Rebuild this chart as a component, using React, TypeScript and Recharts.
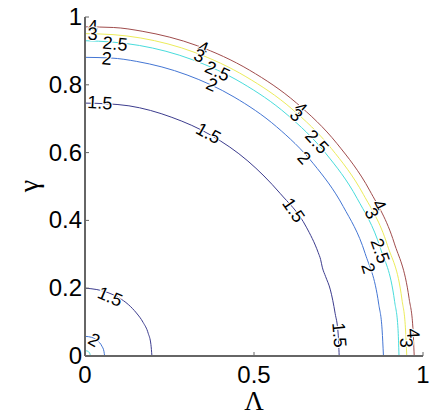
import React from 'react';
import { ComposedChart, Line, Scatter, XAxis, YAxis } from 'recharts';

const xTicks = [0, 0.5, 1];
const yTicks = [0, 0.2, 0.4, 0.6, 0.8, 1];

// contour lines (Lambda, gamma)
const level4 = [
  { x: 0, y: 0.971 }, { x: 0.085, y: 0.969 }, { x: 0.169, y: 0.958 }, { x: 0.333, y: 0.915 },
  { x: 0.487, y: 0.843 }, { x: 0.626, y: 0.746 }, { x: 0.746, y: 0.626 }, { x: 0.843, y: 0.487 },
  { x: 0.915, y: 0.333 }, { x: 0.959, y: 0.169 }, { x: 0.970, y: 0.085 }, { x: 0.974, y: 0 },
];
const level3 = [
  { x: 0, y: 0.951 }, { x: 0.083, y: 0.948 }, { x: 0.165, y: 0.938 }, { x: 0.326, y: 0.895 },
  { x: 0.476, y: 0.824 }, { x: 0.612, y: 0.729 }, { x: 0.729, y: 0.612 }, { x: 0.824, y: 0.476 },
  { x: 0.895, y: 0.326 }, { x: 0.938, y: 0.165 }, { x: 0.948, y: 0.083 }, { x: 0.952, y: 0 },
];
const level25 = [
  { x: 0, y: 0.930 }, { x: 0.081, y: 0.926 }, { x: 0.161, y: 0.916 }, { x: 0.318, y: 0.874 },
  { x: 0.465, y: 0.805 }, { x: 0.598, y: 0.712 }, { x: 0.712, y: 0.598 }, { x: 0.805, y: 0.465 },
  { x: 0.874, y: 0.318 }, { x: 0.916, y: 0.161 }, { x: 0.926, y: 0.081 }, { x: 0.929, y: 0 },
];
const level2 = [
  { x: 0, y: 0.881 }, { x: 0.077, y: 0.879 }, { x: 0.153, y: 0.869 }, { x: 0.302, y: 0.829 },
  { x: 0.441, y: 0.764 }, { x: 0.567, y: 0.676 }, { x: 0.676, y: 0.567 }, { x: 0.764, y: 0.441 },
  { x: 0.829, y: 0.302 }, { x: 0.869, y: 0.153 }, { x: 0.879, y: 0.077 }, { x: 0.883, y: 0 },
];
const level15 = [
  { x: 0, y: 0.746 }, { x: 0.065, y: 0.744 }, { x: 0.130, y: 0.738 }, { x: 0.257, y: 0.704 },
  { x: 0.375, y: 0.650 }, { x: 0.482, y: 0.575 }, { x: 0.577, y: 0.480 }, { x: 0.655, y: 0.380 },
  { x: 0.690, y: 0.305 }, { x: 0.697, y: 0.285 }, { x: 0.702, y: 0.262 }, { x: 0.712, y: 0.234 },
  { x: 0.726, y: 0.195 }, { x: 0.740, y: 0.126 }, { x: 0.749, y: 0.065 }, { x: 0.752, y: 0 },
];
const level15Inner = [
  { x: 0, y: 0.200 }, { x: 0.035, y: 0.196 }, { x: 0.068, y: 0.187 }, { x: 0.100, y: 0.172 },
  { x: 0.128, y: 0.152 }, { x: 0.152, y: 0.127 }, { x: 0.172, y: 0.099 }, { x: 0.187, y: 0.067 },
  { x: 0.195, y: 0.034 }, { x: 0.198, y: 0 },
];
const level2Inner = [
  { x: 0, y: 0.058 }, { x: 0.020, y: 0.055 }, { x: 0.037, y: 0.045 }, { x: 0.050, y: 0.029 },
  { x: 0.056, y: 0.014 }, { x: 0.058, y: 0 },
];
const level25Inner = [
  { x: 0, y: 0.016 }, { x: 0.008, y: 0.014 }, { x: 0.014, y: 0.008 }, { x: 0.016, y: 0 },
];

// inline contour labels
const contourLabels = [
  { x: 0.023, y: 0.972, text: '4' }, { x: 0.023, y: 0.950, text: '3' },
  { x: 0.089, y: 0.921, text: '2.5' }, { x: 0.064, y: 0.877, text: '2' },
  { x: 0.044, y: 0.747, text: '1.5' },
  { x: 0.349, y: 0.909, text: '4' }, { x: 0.338, y: 0.886, text: '3' },
  { x: 0.392, y: 0.840, text: '2.5' }, { x: 0.375, y: 0.800, text: '2' },
  { x: 0.365, y: 0.657, text: '1.5' },
  { x: 0.638, y: 0.730, text: '4' }, { x: 0.625, y: 0.711, text: '3' },
  { x: 0.686, y: 0.632, text: '2.5' }, { x: 0.648, y: 0.584, text: '2' },
  { x: 0.617, y: 0.430, text: '1.5' },
  { x: 0.870, y: 0.445, text: '4' }, { x: 0.848, y: 0.421, text: '3' },
  { x: 0.873, y: 0.310, text: '2.5' }, { x: 0.838, y: 0.259, text: '2' },
  { x: 0.752, y: 0.062, text: '1.5' },
  { x: 0.971, y: 0.067, text: '4' }, { x: 0.950, y: 0.039, text: '3' },
  { x: 0.074, y: 0.175, text: '1.5' }, { x: 0.027, y: 0.047, text: '2' },
];

const contours = [
  { key: 'c4', data: level4, color: '#a04c4c' },
  { key: 'c3', data: level3, color: '#ecec5a' },
  { key: 'c25', data: level25, color: '#48dcdc' },
  { key: 'c2', data: level2, color: '#4476d4' },
  { key: 'c15', data: level15, color: '#3c3c8e' },
  { key: 'c15i', data: level15Inner, color: '#3c3c8e' },
  { key: 'c2i', data: level2Inner, color: '#4476d4' },
  { key: 'c25i', data: level25Inner, color: '#48dcdc' },
];

const tickFont = '"Liberation Sans", Arial, sans-serif';
const serifFont = '"Liberation Serif", "Times New Roman", serif';

const BottomTick = ({ x, y, payload }: any) => (
  <g>
    <line x1={x} y1={y} x2={x} y2={y - 4} stroke="#666" />
    <text x={x} y={y + 27} textAnchor="middle" fontSize={24} fontFamily={tickFont} fill="#000">
      {payload.value}
    </text>
  </g>
);

const LeftTick = ({ x, y, payload }: any) => (
  <g>
    <line x1={x} y1={y} x2={x + 4} y2={y} stroke="#666" />
    <text x={x - 3} y={y + 8} textAnchor="end" fontSize={24} fontFamily={tickFont} fill="#000">
      {payload.value}
    </text>
  </g>
);

const TopTick = ({ x, y }: any) => <line x1={x} y1={y} x2={x} y2={y + 4} stroke="#888" />;
const RightTick = ({ x, y }: any) => <line x1={x} y1={y} x2={x - 4} y2={y} stroke="#888" />;

const ContourLabel = (props: any) => {
  const { cx, cy, payload } = props;
  const angle = 90 - (Math.atan2(payload.y, payload.x) * 180) / Math.PI;
  return (
    <text
      x={cx}
      y={cy}
      transform={`rotate(${angle} ${cx} ${cy})`}
      textAnchor="middle"
      dominantBaseline="central"
      fontSize={18}
      fontFamily={tickFont}
      fill="#000"
      stroke="#fff"
      strokeWidth={2}
      paintOrder="stroke"
    >
      {payload.text}
    </text>
  );
};

export default function App() {
  return (
    <div style={{ position: 'absolute', left: 0, top: 0, background: '#fff' }}>
      <ComposedChart width={433} height={418} margin={{ top: 17, right: 10, bottom: 0, left: 0 }}>
        <XAxis
          type="number"
          dataKey="x"
          domain={[0, 1]}
          ticks={xTicks}
          interval={0}
          height={62}
          tickSize={0}
          tickMargin={0}
          tick={<BottomTick />}
          axisLine={{ stroke: '#666', strokeWidth: 2 }}
        />
        <XAxis
          xAxisId="top"
          orientation="top"
          type="number"
          dataKey="x"
          domain={[0, 1]}
          ticks={xTicks}
          interval={0}
          height={0}
          tickSize={0}
          tickMargin={0}
          tick={<TopTick />}
          axisLine={{ stroke: '#333', strokeWidth: 1 }}
        />
        <YAxis
          type="number"
          dataKey="y"
          domain={[0, 1]}
          ticks={yTicks}
          interval={0}
          width={85}
          tickSize={0}
          tickMargin={0}
          tick={<LeftTick />}
          axisLine={{ stroke: '#666', strokeWidth: 2 }}
        />
        <YAxis
          yAxisId="right"
          orientation="right"
          type="number"
          dataKey="y"
          domain={[0, 1]}
          ticks={yTicks}
          interval={0}
          width={0}
          tickSize={0}
          tickMargin={0}
          tick={<RightTick />}
          axisLine={{ stroke: '#333', strokeWidth: 1 }}
        />
        {contours.map((c) => (
          <Line
            key={c.key}
            data={c.data}
            dataKey="y"
            type="monotone"
            stroke={c.color}
            strokeWidth={1}
            dot={false}
            activeDot={false}
            isAnimationActive={false}
          />
        ))}
        <Scatter data={contourLabels} shape={ContourLabel} isAnimationActive={false} />
        <text x={254} y={410} textAnchor="middle" fontSize={27} fontFamily={serifFont} fill="#000">
          Λ
        </text>
        <text
          x={28}
          y={186}
          transform="rotate(-90 28 186)"
          textAnchor="middle"
          dominantBaseline="central"
          fontSize={28}
          fontFamily={serifFont}
          fill="#000"
        >
          γ
        </text>
      </ComposedChart>
    </div>
  );
}
